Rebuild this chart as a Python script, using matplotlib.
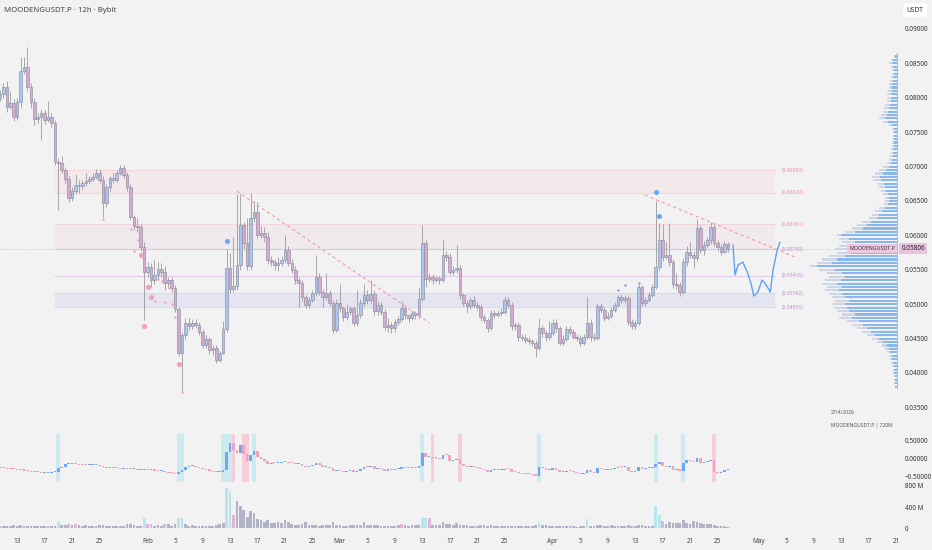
import matplotlib
matplotlib.use("Agg")
import matplotlib.pyplot as plt
import matplotlib.transforms as mtransforms
import numpy as np

plt.rcParams['font.family'] = ['Noto Sans', 'DejaVu Sans']

# 12h candles, day numbers counted from 1 Jan 2026
first_day = 9.52
closes = [0.0805, 0.0815, 0.0787, 0.0792, 0.0772, 0.0794, 0.0839, 0.0845, 0.0816, 0.0794,
          0.0769, 0.0772, 0.0778, 0.0768, 0.0772, 0.0763, 0.0707, 0.0705, 0.0695, 0.0682,
          0.0654, 0.0665, 0.0673, 0.0672, 0.0676, 0.0679, 0.0682, 0.0685, 0.0691, 0.0681,
          0.0647, 0.0670, 0.0683, 0.0681, 0.0691, 0.0698, 0.0688, 0.0670, 0.0627, 0.0614,
          0.0612, 0.0583, 0.0547, 0.0554, 0.0535, 0.0542, 0.0551, 0.0547, 0.0531, 0.0535,
          0.0524, 0.0493, 0.0429, 0.0455, 0.0473, 0.0468, 0.0473, 0.0470, 0.0460, 0.0441,
          0.0449, 0.0433, 0.0436, 0.0419, 0.0429, 0.0464, 0.0553, 0.0522, 0.0526, 0.0557,
          0.0615, 0.0589, 0.0555, 0.0625, 0.0634, 0.0601, 0.0604, 0.0598, 0.0564, 0.0561,
          0.0557, 0.0560, 0.0564, 0.0579, 0.0560, 0.0550, 0.0535, 0.0531, 0.0510, 0.0499,
          0.0506, 0.0516, 0.0540, 0.0518, 0.0510, 0.0516, 0.0502, 0.0463, 0.0502, 0.0494,
          0.0481, 0.0489, 0.0494, 0.0473, 0.0484, 0.0502, 0.0513, 0.0506, 0.0515, 0.0490,
          0.0499, 0.0489, 0.0467, 0.0470, 0.0465, 0.0474, 0.0478, 0.0494, 0.0484, 0.0480,
          0.0487, 0.0484, 0.0508, 0.0589, 0.0537, 0.0540, 0.0535, 0.0538, 0.0535, 0.0572,
          0.0569, 0.0547, 0.0550, 0.0553, 0.0513, 0.0502, 0.0497, 0.0506, 0.0499, 0.0496,
          0.0481, 0.0477, 0.0465, 0.0487, 0.0485, 0.0487, 0.0489, 0.0506, 0.0499, 0.0468,
          0.0470, 0.0452, 0.0451, 0.0448, 0.0447, 0.0444, 0.0436, 0.0465, 0.0458, 0.0452,
          0.0458, 0.0473, 0.0465, 0.0444, 0.0450, 0.0464, 0.0459, 0.0453, 0.0451, 0.0444,
          0.0453, 0.0473, 0.0453, 0.0451, 0.0497, 0.0492, 0.0480, 0.0483, 0.0492, 0.0499,
          0.0510, 0.0506, 0.0509, 0.0474, 0.0468, 0.0473, 0.0525, 0.0502, 0.0506, 0.0513,
          0.0525, 0.0554, 0.0593, 0.0569, 0.0572, 0.0561, 0.0529, 0.0528, 0.0518, 0.0561,
          0.0576, 0.0572, 0.0567, 0.0611, 0.0579, 0.0586, 0.0593, 0.0612, 0.0589, 0.0583,
          0.0576, 0.0587, 0.05806]
highs = [0.0812, 0.0822, 0.0825, 0.0810, 0.0798, 0.0800, 0.0859, 0.0859, 0.0874, 0.0822,
         0.0800, 0.0778, 0.0784, 0.0782, 0.0795, 0.0778, 0.0768, 0.0712, 0.0715, 0.0700,
         0.0686, 0.0670, 0.0689, 0.0680, 0.0680, 0.0690, 0.0686, 0.0690, 0.0696, 0.0696,
         0.0686, 0.0675, 0.0687, 0.0690, 0.0695, 0.0702, 0.0702, 0.0692, 0.0674, 0.0630,
         0.0625, 0.0616, 0.0590, 0.0562, 0.0560, 0.0564, 0.0562, 0.0560, 0.0556, 0.0540,
         0.0540, 0.0528, 0.0496, 0.0460, 0.0480, 0.0482, 0.0479, 0.0478, 0.0474, 0.0464,
         0.0455, 0.0452, 0.0440, 0.0440, 0.0432, 0.0476, 0.0580, 0.0575, 0.0598, 0.0660,
         0.0660, 0.0620, 0.0625, 0.0661, 0.0650, 0.0648, 0.0614, 0.0612, 0.0605, 0.0570,
         0.0566, 0.0568, 0.0570, 0.0601, 0.0584, 0.0565, 0.0555, 0.0540, 0.0535, 0.0514,
         0.0510, 0.0520, 0.0572, 0.0545, 0.0522, 0.0545, 0.0520, 0.0506, 0.0507, 0.0530,
         0.0498, 0.0500, 0.0498, 0.0498, 0.0520, 0.0507, 0.0530, 0.0520, 0.0535, 0.0520,
         0.0505, 0.0503, 0.0493, 0.0480, 0.0474, 0.0478, 0.0483, 0.0505, 0.0498, 0.0486,
         0.0492, 0.0490, 0.0525, 0.0615, 0.0593, 0.0545, 0.0544, 0.0542, 0.0541, 0.0594,
         0.0578, 0.0574, 0.0555, 0.0586, 0.0557, 0.0517, 0.0506, 0.0510, 0.0512, 0.0503,
         0.0500, 0.0486, 0.0480, 0.0491, 0.0491, 0.0492, 0.0494, 0.0512, 0.0510, 0.0503,
         0.0474, 0.0474, 0.0456, 0.0456, 0.0452, 0.0450, 0.0448, 0.0480, 0.0470, 0.0462,
         0.0475, 0.0478, 0.0478, 0.0468, 0.0455, 0.0468, 0.0468, 0.0464, 0.0457, 0.0455,
         0.0457, 0.0510, 0.0478, 0.0458, 0.0502, 0.0502, 0.0496, 0.0488, 0.0496, 0.0503,
         0.0514, 0.0515, 0.0513, 0.0512, 0.0478, 0.0477, 0.0530, 0.0528, 0.0511, 0.0518,
         0.0530, 0.0650, 0.0618, 0.0616, 0.0590, 0.0618, 0.0565, 0.0545, 0.0532, 0.0567,
         0.0585, 0.0590, 0.0578, 0.0624, 0.0615, 0.0592, 0.0598, 0.0620, 0.0616, 0.0593,
         0.0588, 0.0592, 0.0590]
lows = [0.0795, 0.0800, 0.0779, 0.0783, 0.0766, 0.0768, 0.0787, 0.0835, 0.0810, 0.0785,
        0.0760, 0.0764, 0.0739, 0.0762, 0.0765, 0.0758, 0.0703, 0.0637, 0.0690, 0.0676,
        0.0649, 0.0650, 0.0660, 0.0662, 0.0666, 0.0672, 0.0675, 0.0679, 0.0682, 0.0676,
        0.0627, 0.0642, 0.0665, 0.0676, 0.0677, 0.0688, 0.0684, 0.0665, 0.0622, 0.0608,
        0.0605, 0.0578, 0.0477, 0.0540, 0.0525, 0.0530, 0.0538, 0.0540, 0.0520, 0.0525,
        0.0518, 0.0488, 0.0424, 0.0372, 0.0450, 0.0462, 0.0464, 0.0465, 0.0455, 0.0436,
        0.0437, 0.0428, 0.0426, 0.0414, 0.0416, 0.0427, 0.0460, 0.0516, 0.0518, 0.0520,
        0.0550, 0.0580, 0.0550, 0.0550, 0.0620, 0.0596, 0.0596, 0.0590, 0.0558, 0.0555,
        0.0550, 0.0548, 0.0556, 0.0560, 0.0555, 0.0545, 0.0530, 0.0496, 0.0505, 0.0494,
        0.0495, 0.0503, 0.0512, 0.0514, 0.0496, 0.0506, 0.0497, 0.0458, 0.0460, 0.0488,
        0.0476, 0.0477, 0.0485, 0.0468, 0.0469, 0.0480, 0.0498, 0.0500, 0.0502, 0.0485,
        0.0484, 0.0484, 0.0462, 0.0460, 0.0458, 0.0460, 0.0470, 0.0475, 0.0479, 0.0474,
        0.0477, 0.0478, 0.0480, 0.0505, 0.0525, 0.0532, 0.0530, 0.0532, 0.0530, 0.0532,
        0.0563, 0.0542, 0.0543, 0.0546, 0.0508, 0.0497, 0.0487, 0.0493, 0.0494, 0.0491,
        0.0476, 0.0472, 0.0460, 0.0462, 0.0480, 0.0481, 0.0483, 0.0486, 0.0494, 0.0463,
        0.0463, 0.0447, 0.0446, 0.0443, 0.0442, 0.0439, 0.0423, 0.0433, 0.0452, 0.0446,
        0.0448, 0.0455, 0.0460, 0.0440, 0.0440, 0.0446, 0.0455, 0.0449, 0.0447, 0.0439,
        0.0440, 0.0450, 0.0447, 0.0446, 0.0448, 0.0487, 0.0476, 0.0477, 0.0480, 0.0489,
        0.0496, 0.0502, 0.0502, 0.0470, 0.0464, 0.0464, 0.0470, 0.0497, 0.0498, 0.0503,
        0.0510, 0.0522, 0.0550, 0.0563, 0.0565, 0.0556, 0.0524, 0.0522, 0.0512, 0.0515,
        0.0556, 0.0567, 0.0553, 0.0563, 0.0575, 0.0572, 0.0583, 0.0588, 0.0584, 0.0578,
        0.0571, 0.0574, 0.0576]
first_open = 0.0800

# oscillator panel (one value per candle)
osc = [-0.25, -0.26, -0.27, -0.28, -0.29, -0.30, -0.31, -0.32, -0.33, -0.35,
       -0.36, -0.37, -0.38, -0.38, -0.38, -0.37, -0.36, -0.25, -0.21, -0.15,
       -0.15, -0.14, -0.15, -0.16, -0.17, -0.18, -0.18, -0.18, -0.17, -0.20,
       -0.22, -0.24, -0.23, -0.25, -0.26, -0.27, -0.27, -0.28, -0.29, -0.28,
       -0.30, -0.30, -0.28, -0.31, -0.31, -0.32, -0.33, -0.33, -0.36, -0.38,
       -0.40, -0.42, -0.35, -0.30, -0.22, -0.20, -0.19, -0.22, -0.25, -0.28,
       -0.30, -0.32, -0.35, -0.37, -0.36, -0.30, 0.19, 0.44, 0.25, 0.17,
       0.38, 0.15, -0.05, 0.10, 0.22, 0.05, 0.00, -0.05, -0.15, -0.10,
       -0.12, -0.10, -0.08, -0.07, -0.10, -0.12, -0.15, -0.14, -0.20, -0.22,
       -0.20, -0.18, -0.12, -0.18, -0.22, -0.22, -0.26, -0.34, -0.30, -0.33,
       -0.36, -0.34, -0.30, -0.36, -0.32, -0.28, -0.21, -0.22, -0.20, -0.27,
       -0.25, -0.27, -0.32, -0.30, -0.31, -0.29, -0.27, -0.22, -0.25, -0.26,
       -0.24, -0.25, -0.20, 0.16, 0.05, 0.05, 0.02, 0.03, 0.00, 0.12,
       0.10, -0.05, -0.03, 0.00, -0.15, -0.20, -0.22, -0.20, -0.23, -0.25,
       -0.29, -0.30, -0.35, -0.30, -0.30, -0.30, -0.30, -0.27, -0.28, -0.35,
       -0.36, -0.40, -0.41, -0.42, -0.43, -0.44, -0.46, -0.21, -0.26, -0.30,
       -0.30, -0.26, -0.30, -0.37, -0.36, -0.32, -0.34, -0.37, -0.39, -0.42,
       -0.40, -0.30, -0.36, -0.38, -0.25, -0.27, -0.30, -0.30, -0.27, -0.25,
       -0.22, -0.23, -0.23, -0.32, -0.35, -0.34, -0.22, -0.27, -0.26, -0.25,
       -0.22, -0.15, -0.08, -0.20, -0.22, -0.20, -0.30, -0.30, -0.32, -0.12,
       -0.02, -0.05, -0.08, 0.02, -0.10, -0.08, -0.06, -0.02, -0.35, -0.38,
       -0.36, -0.30, -0.28]
osc_cyan = [17, 52, 53, 65, 66, 67, 74, 123, 157, 191, 199]
osc_pink = [68, 71, 72, 126, 134, 208]

# volume in millions
volume_m = [40, 45, 45, 40, 50, 45, 55, 45, 40, 35,
            40, 35, 30, 30, 40, 40, 45, 115, 60, 65,
            75, 55, 80, 50, 40, 50, 35, 40, 45, 60,
            50, 35, 35, 30, 35, 40, 35, 70, 70, 55,
            35, 45, 190, 80, 85, 40, 60, 45, 80, 70,
            40, 70, 200, 200, 75, 45, 55, 40, 40, 40,
            40, 35, 40, 55, 70, 100, 760, 700, 240, 520,
            420, 340, 210, 330, 290, 180, 150, 110, 160, 90,
            90, 120, 100, 150, 110, 70, 50, 60, 70, 120,
            50, 50, 60, 40, 50, 60, 50, 110, 50, 60,
            40, 45, 50, 60, 50, 60, 105, 60, 60, 50,
            50, 40, 40, 30, 45, 40, 50, 75, 50, 40,
            60, 55, 60, 200, 200, 200, 50, 50, 60, 120,
            80, 70, 50, 100, 60, 50, 50, 40, 45, 40,
            50, 55, 45, 50, 40, 40, 35, 40, 45, 40,
            35, 35, 30, 35, 30, 40, 60, 120, 55, 60,
            40, 40, 40, 40, 35, 30, 40, 30, 25, 30,
            30, 170, 40, 45, 60, 50, 40, 40, 50, 40,
            45, 40, 40, 50, 40, 40, 60, 50, 40, 40,
            40, 420, 250, 140, 80, 120, 90, 90, 100, 150,
            100, 80, 130, 110, 100, 80, 75, 70, 60, 40,
            30, 35, 20]
vol_cyan = [17, 42, 52, 53, 66, 67, 123, 124, 157, 171, 191, 192]
vol_pink = [20, 22, 43, 44, 48, 68, 117, 125, 193]

# horizontal levels and zones
levels = [0.06950, 0.06622, 0.06161, 0.05799, 0.05416, 0.05162, 0.04955]
level_colors = ['#f5d6df', '#f5d6df', '#f3d3de', '#e3cfe9', '#e2cde8', '#dadaf0', '#dadaf0']
label_colors = ['#e98bad', '#e98bad', '#e98bad', '#c98dc3', '#bb8cc6', '#bb8cc6', '#bb8cc6']
zones = [(0.06622, 0.06950, '#f3e9eb'), (0.05799, 0.06161, '#f0e9ee'), (0.04955, 0.05162, '#e5e5f1')]
zone_start, zone_end = 17.5, 122.4

# trend lines, forecast path
trend1_d, trend1_p = [44.0, 72.1], [0.06645, 0.04727]
trend2_d, trend2_p = [103.4, 125.3], [0.06587, 0.05686]
path_d = [116.27, 116.56, 117.0, 117.7, 118.4, 118.9, 119.3, 119.9, 120.5, 121.1, 121.7, 122.1, 122.7, 123.1]
path_p = [0.05860, 0.05424, 0.0557, 0.05613, 0.05454, 0.05294, 0.05119, 0.05177, 0.05352, 0.05279,
          0.05177, 0.05497, 0.05788, 0.0590]

# signal dots
blue_big_d, blue_big_p = [42.58, 105.05, 105.49], [0.05919, 0.06631, 0.06282]
blue_small_d, blue_small_p = [99.52, 100.54, 102.58], [0.05206, 0.05279, 0.05308]
pink_big_d = [30.06, 31.08, 31.51, 30.49, 35.59]
pink_big_p = [0.05715, 0.0525, 0.05105, 0.04683, 0.04131]
pink_small_d = [24.52, 28.6, 29.62, 29.04, 32.1, 33.12, 33.55, 34.13, 34.57, 35.0, 36.03, 32.53]
pink_small_p = [0.06238, 0.06093, 0.05933, 0.05773, 0.05047, 0.05337, 0.05032, 0.05235, 0.05003,
                0.04814, 0.03724, 0.05366]

# volume profile (bins of 0.0005 starting at 0.0380)
profile_total = [2, 3, 3, 3, 4, 4, 5, 6, 7, 8,
                 10, 12, 15, 20, 25, 30, 35, 40, 45, 50,
                 58, 55, 60, 63, 65, 62, 65, 68, 72, 70,
                 75, 72, 68, 70, 78, 87, 80, 75, 68, 60,
                 62, 58, 55, 58, 60, 52, 45, 40, 35, 28,
                 25, 22, 18, 14, 12, 12, 14, 16, 18, 20,
                 24, 25, 22, 18, 14, 10, 8, 7, 6, 6,
                 5, 5, 4, 4, 4, 5, 8, 14, 18, 16,
                 14, 13, 12, 10, 10, 10, 9, 8, 8, 7,
                 6, 5, 5, 6, 8, 6, 3]
profile_blue = [2, 2, 2, 2, 3, 3, 3, 4, 5, 5,
                7, 8, 10, 14, 18, 22, 26, 30, 34, 38,
                45, 42, 48, 50, 52, 48, 52, 55, 58, 55,
                60, 56, 52, 55, 62, 80, 65, 60, 52, 46,
                50, 44, 42, 48, 56, 42, 34, 30, 26, 20,
                18, 15, 12, 9, 8, 8, 9, 11, 12, 13,
                16, 17, 14, 11, 8, 6, 5, 4, 4, 4,
                3, 3, 3, 3, 3, 3, 5, 9, 12, 10,
                9, 8, 7, 6, 6, 6, 5, 5, 5, 4,
                4, 3, 3, 4, 5, 4, 2]

tick_days = [12, 16, 20, 24, 31, 35, 39, 43, 47, 51, 55, 59, 63, 67, 71, 75, 79, 83,
             90, 94, 98, 102, 106, 110, 114, 120, 124, 128, 132, 136, 140]
tick_labels = ['13', '17', '21', '25', 'Feb', '5', '9', '13', '17', '21', '25', 'Mar', '5', '9',
               '13', '17', '21', '25', 'Apr', '5', '9', '13', '17', '21', '25', 'May', '5', '9',
               '13', '17', '21']

W, H = 932, 550
bg = '#f2f2f2'
px_per_day = 6.867


def rect(x0, y0, x1, y1):
    return [x0 / W, 1 - y1 / H, (x1 - x0) / W, (y1 - y0) / H]


fig = plt.figure(figsize=(W / 100, H / 100), dpi=100, facecolor=bg)
ax = fig.add_axes(rect(0, 0, 898, 430))
osc_ax = fig.add_axes(rect(0, 434, 898, 482), sharex=ax)
vol_ax = fig.add_axes(rect(0, 484, 898, 530), sharex=ax)
for a in (ax, osc_ax, vol_ax):
    a.set_facecolor(bg)
    for s in a.spines.values():
        s.set_visible(False)
    a.yaxis.tick_right()
    a.tick_params(axis='y', length=0, pad=5, labelsize=4.6, labelcolor='#333333')
    a.tick_params(axis='x', length=0)

days = first_day + 0.5 * np.arange(len(closes))
c = np.array(closes)
o = np.concatenate([[first_open], c[:-1]])
hi = np.array(highs)
lo = np.array(lows)
up = c >= o

ax.set_xlim(9.524, 140.296)
ax.set_ylim(0.031715, 0.094215)

# zones and levels
for bottom, top, col in zones:
    ax.fill_between([zone_start, zone_end], bottom, top, color=col, lw=0, zorder=0)
for lv, lc, tc in zip(levels, level_colors, label_colors):
    ax.plot([zone_start, zone_end], [lv, lv], color=lc, lw=0.8, zorder=1)
    ax.text(zone_end + 1.0, lv, f'({lv:.5f})', fontsize=3.6, color=tc, va='center', ha='left')

last = closes[-1]
ax.axhline(last, color='#cdb0d5', lw=0.6, ls=(0, (1, 1.5)), zorder=1)

# candles
ax.vlines(days, lo, hi, color='#9a9a9a', lw=0.6, zorder=2)
body_h = np.maximum(np.abs(c - o), 0.00008)
ax.bar(days, body_h, bottom=np.minimum(o, c), width=0.38,
       color=np.where(up, '#a9c6ee', '#d9aad0'), edgecolor='#8d8d9c', linewidth=0.45, zorder=3)

# trend lines and drawn path
ax.plot(trend1_d, trend1_p, color='#f29ab6', lw=0.8, ls=(0, (3, 2.5)), zorder=4)
ax.plot(trend2_d, trend2_p, color='#f29ab6', lw=0.8, ls=(0, (3, 2.5)), zorder=4)
ax.plot(path_d, path_p, color='#5ea2f2', lw=1.0, solid_joinstyle='round', zorder=4)

# signal dots
ax.scatter(blue_big_d, blue_big_p, s=13, color='#6aa8f2', zorder=5, lw=0)
ax.scatter(blue_small_d, blue_small_p, s=3, color='#6aa8f2', zorder=5, lw=0)
ax.scatter(pink_big_d, pink_big_p, s=14, color='#f0a0bb', zorder=5, lw=0)
ax.scatter(pink_small_d, pink_small_p, s=3, color='#f0a0bb', zorder=5, lw=0)

# volume profile at the right edge
prof_right = 12 + (897 - 17) / px_per_day
prof_p = 0.038 + 0.0005 * np.arange(len(profile_total))
ax.barh(prof_p, -np.array(profile_total) / px_per_day, left=prof_right, height=0.0003,
        color='#ccd6e8', lw=0, zorder=2)
ax.barh(prof_p, -np.array(profile_blue) / px_per_day, left=prof_right, height=0.0003,
        color='#8ab6f0', lw=0, zorder=2)
ax.plot([prof_right, prof_right], [0.0378, 0.0865], color='#8fb8f0', lw=0.6, zorder=2)

ax.set_yticks(np.arange(0.035, 0.0901, 0.005))
ax.set_yticklabels([f'{v:.5f}' for v in np.arange(0.035, 0.0901, 0.005)])
ax.tick_params(axis='x', labelbottom=False)

blend = mtransforms.blended_transform_factory(ax.transAxes, ax.transData)
ax.text(1.004, last, f'{last:.5f}', transform=blend, fontsize=4.6, color='#222222', va='center',
        ha='left', zorder=10, clip_on=False,
        bbox=dict(boxstyle='square,pad=0.35', fc='#e7c3de', ec='none'))
ax.text(0.971, last, 'MOODENGUSDT.P', transform=blend, fontsize=3.8, color='#333333', va='center',
        ha='center', zorder=10, bbox=dict(boxstyle='square,pad=0.35', fc='#ebc7e1', ec='none'))

# oscillator
osc_v = np.array(osc)
osc_o = np.concatenate([[osc_v[0]], osc_v[:-1]])
osc_ax.set_ylim(-0.639, 0.694)
for i in osc_cyan:
    osc_ax.axvspan(days[i] - 0.27, days[i] + 0.27, color='#cdeaf0', lw=0, zorder=0)
for i in osc_pink:
    osc_ax.axvspan(days[i] - 0.27, days[i] + 0.27, color='#f4cfda', lw=0, zorder=0)
osc_ax.bar(days, np.maximum(np.abs(osc_v - osc_o), 0.03), bottom=np.minimum(osc_o, osc_v), width=0.38,
           color=np.where(osc_v >= osc_o, '#6fa8f2', '#f2a2bd'), lw=0, zorder=2)
osc_ax.set_yticks([0.5, 0.0, -0.5])
osc_ax.set_yticklabels(['0.50000', '0.00000', '\u22120.50000'])
osc_ax.tick_params(axis='x', labelbottom=False)

# volume
vol_cols = ['#b3b3c7'] * len(volume_m)
for i in vol_cyan:
    vol_cols[i] = '#b6e6ef'
for i in vol_pink:
    vol_cols[i] = '#e3b4d9'
vol_ax.set_ylim(-38, 838)
vol_ax.bar(days, volume_m, width=0.4, color=vol_cols, lw=0, zorder=2)
vol_ax.set_yticks([0, 400, 800])
vol_ax.set_yticklabels(['0', '400 M', '800 M'])
vol_ax.set_xticks(tick_days)
vol_ax.set_xticklabels(tick_labels)
vol_ax.tick_params(axis='x', labelsize=4.6, labelcolor='#444444', pad=6)

# header and small captions
fig.text(4 / W, 1 - 10 / H, 'MOODENGUSDT.P \u00b7 12h \u00b7 Bybit', fontsize=5.6, color='#444444',
         va='center', ha='left', weight='semibold')
fig.text(915 / W, 1 - 10 / H, 'USDT', fontsize=4.8, color='#333333', va='center', ha='center',
         bbox=dict(boxstyle='round,pad=0.5,rounding_size=0.3', fc='white', ec='none'))
fig.text(831 / W, 1 - 413 / H, '27/4/2026', fontsize=3.6, color='#555555', va='center', ha='left')
fig.text(831 / W, 1 - 426 / H, 'MOODENGUSDT.P | 720M', fontsize=3.6, color='#555555', va='center', ha='left')

fig.savefig('out.png', dpi=100, facecolor=bg)
